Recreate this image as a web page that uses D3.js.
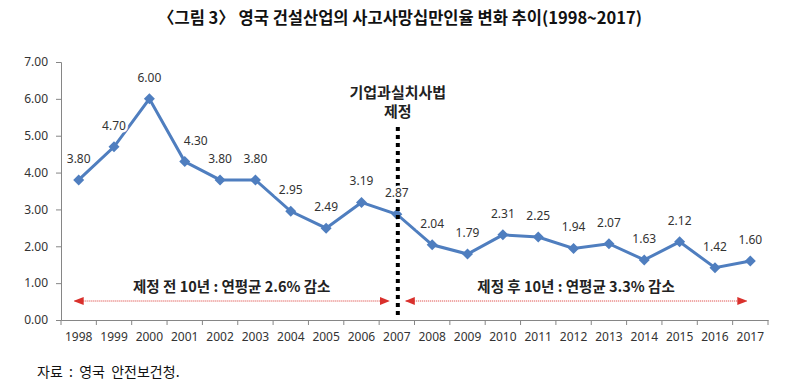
<!DOCTYPE html>
<html>
<head>
<meta charset="utf-8">
<script src="https://cdn.jsdelivr.net/npm/d3@7"></script>
<style>
body { margin: 0; background: #fff; }
text { font-family: "Noto Sans CJK KR", "Noto Sans", sans-serif; }
</style>
</head>
<body>
<svg id="chart" width="809" height="388"></svg>
<script>
var years = ["1998","1999","2000","2001","2002","2003","2004","2005","2006","2007",
             "2008","2009","2010","2011","2012","2013","2014","2015","2016","2017"];
var rates = [3.80, 4.70, 6.00, 4.30, 3.80, 3.80, 2.95, 2.49, 3.19, 2.87,
             2.04, 1.79, 2.31, 2.25, 1.94, 2.07, 1.63, 2.12, 1.42, 1.60];
var yTicks = [0, 1, 2, 3, 4, 5, 6, 7];
var lawYear = "2007";
var lawLabel = ["기업과실치사법", "제정"];
var periods = [
	{ from: "1998", to: "2007", label: "제정 전 10년 : 연평균 2.6% 감소" },
	{ from: "2007", to: "2017", label: "제정 후 10년 : 연평균 3.3% 감소" }
];
var title = "〈그림 3〉 영국 건설산업의 사고사망십만인율 변화 추이(1998~2017)";
var source = "자료  :  영국  안전보건청.";

var svg = d3.select("#chart"),
	mLeft = 61, mRight = 768, mTop = 62, mBottom = 320;

var x = d3.scaleBand().domain(years).range([mLeft, mRight]);
var y = d3.scaleLinear().domain([0, 7]).range([mBottom, mTop]);
var cx = function(d) { return x(d) + x.bandwidth() / 2; };

// title
svg.append("text")
	.attr("x", 400).attr("y", 24)
	.attr("text-anchor", "middle")
	.attr("font-size", 16.5).attr("font-weight", "bold")
	.attr("fill", "#111")
	.style("white-space", "pre")
	.text(title);

// y axis
var yAxis = svg.append("g")
	.attr("transform", "translate(" + mLeft + ",0)")
	.call(d3.axisLeft(y).tickValues(yTicks).tickSize(5).tickPadding(8)
		.tickFormat(d3.format(".2f")));
yAxis.selectAll("path, line").attr("stroke", "#868686");
yAxis.selectAll("text").attr("font-size", 12).attr("fill", "#333")
	.style("font-family", "'Noto Sans', sans-serif");

// x axis (ticks between categories)
var xAxis = svg.append("g")
	.attr("transform", "translate(0," + mBottom + ")")
	.call(d3.axisBottom(x).tickSize(0).tickPadding(12));
xAxis.select("path").attr("stroke", "#868686");
xAxis.selectAll("text").attr("font-size", 12).attr("fill", "#333")
	.style("font-family", "'Noto Sans', sans-serif");
xAxis.selectAll(".sep")
	.data(d3.range(years.length + 1))
	.enter().append("line")
	.attr("x1", function(i) { return mLeft + i * x.step(); })
	.attr("x2", function(i) { return mLeft + i * x.step(); })
	.attr("y1", 0).attr("y2", 5)
	.attr("stroke", "#868686");

// period arrows
var defs = svg.append("defs");
defs.append("marker")
	.attr("id", "ar")
	.attr("viewBox", "0 0 10 10")
	.attr("refX", 9).attr("refY", 5)
	.attr("markerWidth", 10).attr("markerHeight", 10)
	.attr("markerUnits", "userSpaceOnUse")
	.attr("orient", "auto-start-reverse")
	.append("path").attr("d", "M0,1L10,5L0,9Z").attr("fill", "#d9302c");
var ay = 301;
periods.forEach(function(p, i) {
	var x1 = i == 0 ? cx(p.from) - 4 : cx(p.from) + 9,
		x2 = i == 0 ? cx(p.to) - 8 : cx(p.to) - 4;
	svg.append("line")
		.attr("x1", x1).attr("x2", x2).attr("y1", ay).attr("y2", ay)
		.attr("stroke", "#d9302c").attr("stroke-width", 1)
		.attr("stroke-dasharray", "1,1")
		.attr("marker-start", "url(#ar)")
		.attr("marker-end", "url(#ar)");
	svg.append("text")
		.attr("x", (x1 + x2) / 2).attr("y", 292)
		.attr("text-anchor", "middle")
		.attr("font-size", 14.5).attr("font-weight", "bold").attr("fill", "#222")
		.text(p.label);
});

// line + markers
var data = years.map(function(d, i) { return { year: d, v: rates[i] }; });
svg.append("path")
	.datum(data)
	.attr("fill", "none")
	.attr("stroke", "#4f7ebf").attr("stroke-width", 3)
	.attr("d", d3.line().x(function(d) { return cx(d.year); }).y(function(d) { return y(d.v); }));
svg.selectAll(".pt")
	.data(data).enter().append("path")
	.attr("transform", function(d) { return "translate(" + cx(d.year) + "," + y(d.v) + ")"; })
	.attr("d", "M0,-5.5L5.5,0L0,5.5L-5.5,0Z")
	.attr("fill", "#4f7ebf");

// law line (on top of the series)
var lx = cx(lawYear) + 1;
svg.append("line")
	.attr("x1", lx).attr("x2", lx)
	.attr("y1", 127).attr("y2", mBottom - 2)
	.attr("stroke", "#000").attr("stroke-width", 4)
	.attr("stroke-dasharray", "4,4");
svg.append("text")
	.attr("x", lx).attr("y", 98)
	.attr("text-anchor", "middle")
	.attr("font-size", 15).attr("font-weight", "bold").attr("fill", "#222")
	.selectAll("tspan").data(lawLabel).enter().append("tspan")
	.attr("x", lx).attr("dy", function(d, i) { return i ? 19 : 0; })
	.text(function(d) { return d; });

// value labels (the 2001 label sits to the right of the falling line)
var nudge = { "2001": 11 };
svg.selectAll(".lbl")
	.data(data).enter().append("text")
	.attr("x", function(d) { return cx(d.year) + (nudge[d.year] || 0); })
	.attr("y", function(d) { return y(d.v) - 17; })
	.attr("text-anchor", "middle")
	.attr("font-size", 12).attr("fill", "#333")
	.attr("stroke", "#fff").attr("stroke-width", 5)
	.attr("paint-order", "stroke")
	.style("font-family", "'Noto Sans', sans-serif")
	.text(function(d) { return d.v.toFixed(2); });

// source
svg.append("text")
	.attr("x", 37).attr("y", 377)
	.attr("font-size", 14).attr("fill", "#111")
	.style("white-space", "pre")
	.text(source);
</script>
</body>
</html>
